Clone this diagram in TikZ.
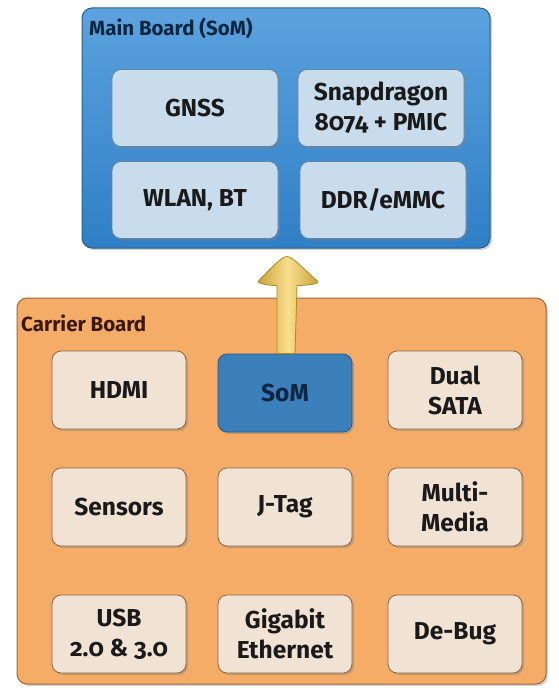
\documentclass[tikz,border=0pt]{standalone}
\usepackage{fontspec}
\setmainfont{Fira Sans}[Numbers=OldStyle]
\usetikzlibrary{shadows,calc}
\definecolor{mainfill}{HTML}{3F92D8}
\definecolor{mainfillb}{HTML}{2F7FC6}
\definecolor{mainline}{HTML}{2A5F8F}
\definecolor{innerblue}{HTML}{C9DCEC}
\definecolor{innerblueline}{HTML}{5F86A8}
\definecolor{orangefill}{HTML}{F5AC66}
\definecolor{orangeline}{HTML}{9A6A3C}
\definecolor{creamfill}{HTML}{F1E3D4}
\definecolor{creamline}{HTML}{8A6646}
\definecolor{somfill}{HTML}{3B7FBB}
\definecolor{somline}{HTML}{2A5A85}
\definecolor{arrowfill}{HTML}{F6C945}
\definecolor{arrowline}{HTML}{B08A20}
\definecolor{txt}{HTML}{1A1A1A}
\definecolor{navytxt}{HTML}{0F2640}
\definecolor{browntxt}{HTML}{3A1808}
\tikzset{
  boxtext/.style={font=\bfseries\fontsize{24.5}{30}\selectfont, text=txt, align=center},
  board/.style={rounded corners=10pt, line width=1pt, drop shadow={opacity=0.35, shadow xshift=2pt, shadow yshift=-2pt}},
  mainboard/.style={board, draw=mainline, top color=mainfill!85!white, bottom color=mainfillb},
  carrierboard/.style={board, draw=orangeline, fill=orangefill},
  bluebox/.style={boxtext, rounded corners=9pt, draw=innerblueline, line width=0.8pt, fill=innerblue, minimum width=166pt, minimum height=77pt, drop shadow={opacity=0.4, shadow xshift=2pt, shadow yshift=-2pt}},
  creambox/.style={boxtext, rounded corners=9pt, draw=creamline, line width=0.8pt, fill=creamfill, minimum width=134pt, minimum height=78pt, drop shadow={opacity=0.4, shadow xshift=2pt, shadow yshift=-2pt}},
  sombox/.style={creambox, draw=somline, fill=somfill, text=navytxt},
  boardtitle/.style={font=\bfseries\fontsize{20.5}{22}\selectfont, anchor=west, inner sep=0pt},
}
\begin{document}
\begin{tikzpicture}[x=1pt,y=-1pt]
\useasboundingbox (0,0) rectangle (558,690);
% boards
\node[mainboard, minimum width=408pt, minimum height=240pt] (main) at (286,128) {};
\node[carrierboard, minimum width=529pt, minimum height=386pt] (carrier) at (281.5,491) {};
\node[boardtitle, text=navytxt] (maintitle) at (89,28) {Main Board (SoM)};
\node[boardtitle, text=browntxt] (carriertitle) at (21,323) {Carrier Board};
% main board contents
\node[bluebox] (gnss) at (195,108) {GNSS};
\node[bluebox] (snap) at (381,108) {Snapdragon\\8074 + PMIC};
\node[bluebox] (wlan) at (195,200) {WLAN, BT};
\node[bluebox] (ddr) at (383,200) {DDR/eMMC};
% carrier contents
\node[creambox] (hdmi) at (119,390) {HDMI};
\node[sombox] (som) at (285,393) {SoM};
\node[creambox] (sata) at (455,390) {Dual\\SATA};
\node[creambox] (sensors) at (119,507) {Sensors};
\node[creambox] (jtag) at (285,507) {J-Tag};
\node[creambox] (mm) at (455,507) {Multi-\\Media};
\node[creambox] (usb) at (119,634) {USB\\2.0 \& 3.0};
\node[creambox] (gbe) at (285,634) {Gigabit\\Ethernet};
\node[creambox] (debug) at (455,634) {De-Bug};
% arrow from SoM up to main board
\coordinate (tip) at ($(main.south)+(1pt,-8pt)$);
\fill[black, opacity=0.25, shift={(2pt,-2pt)}]
  ($(som.north)+(-8pt,0)$) -- ($(tip)+(-10pt,-29pt)$) .. controls ($(tip)+(-22pt,-29pt)$) and ($(tip)+(-30pt,-26pt)$) .. ($(tip)+(-29pt,-25pt)$)
  .. controls ($(tip)+(-18pt,-14pt)$) and ($(tip)+(-6pt,0pt)$) .. (tip)
  .. controls ($(tip)+(6pt,0pt)$) and ($(tip)+(18pt,-14pt)$) .. ($(tip)+(31pt,-25pt)$)
  .. controls ($(tip)+(32pt,-27pt)$) and ($(tip)+(22pt,-29pt)$) .. ($(tip)+(10pt,-29pt)$) -- ($(som.north)+(10pt,0)$) -- cycle;
\draw[draw=arrowline, line width=0.8pt, left color=arrowfill!80!black, right color=arrowfill!80!black, middle color=arrowfill!60!white, line join=round]
  ($(som.north)+(-8pt,0)$) -- ($(tip)+(-10pt,-29pt)$) .. controls ($(tip)+(-22pt,-29pt)$) and ($(tip)+(-30pt,-26pt)$) .. ($(tip)+(-29pt,-25pt)$)
  .. controls ($(tip)+(-18pt,-14pt)$) and ($(tip)+(-6pt,0pt)$) .. (tip)
  .. controls ($(tip)+(6pt,0pt)$) and ($(tip)+(18pt,-14pt)$) .. ($(tip)+(31pt,-25pt)$)
  .. controls ($(tip)+(32pt,-27pt)$) and ($(tip)+(22pt,-29pt)$) .. ($(tip)+(10pt,-29pt)$) -- ($(som.north)+(10pt,0)$) -- cycle;
\end{tikzpicture}
\end{document}
